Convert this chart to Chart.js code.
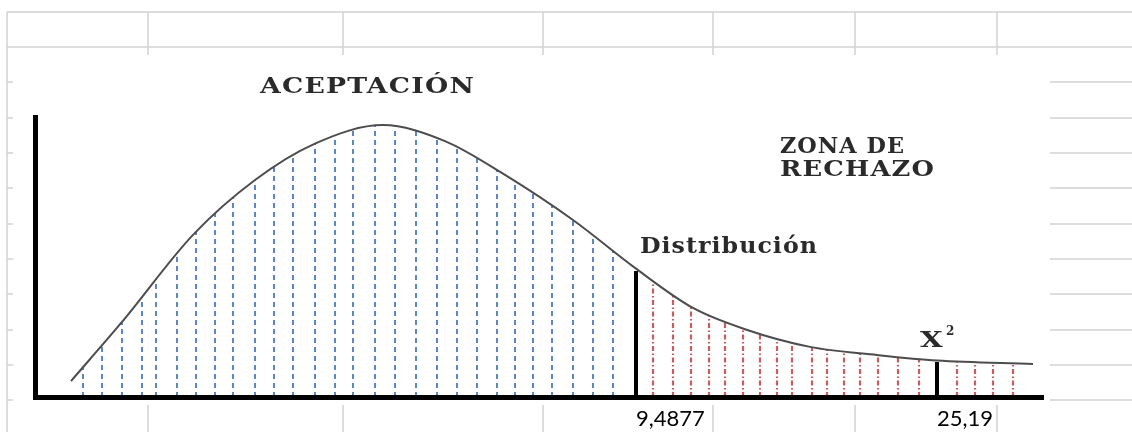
<!DOCTYPE html>
<html>
<head>
<meta charset="utf-8">
<script src="https://cdn.jsdelivr.net/npm/chart.js@4.4.1/dist/chart.umd.min.js"></script>
<style>
  html, body { margin: 0; padding: 0; background: #fff; }
</style>
</head>
<body>
<canvas id="chiChart" width="1132" height="432"></canvas>
<script>
// density curve (x: 0-100.8 along the axis, y: 0-100 height)
const curveX = [3.6, 8.7, 15.8, 22.0, 28.0, 34.8, 41.0, 47.0, 53.8, 60.0, 65.8, 71.0, 77.5, 84.2, 90.2, 99.8];
const curveY = [5.7, 26.8, 57.9, 77.5, 90.5, 97.1, 91.4, 79.3, 63.2, 46.1, 31.8, 24.2, 17.9, 15.0, 13.0, 11.8];

// critical values: position on the axis, height of the marker, label
const critX = [60.1, 90.2];
const critTop = [45.0, 12.5];
const tickLabels = ['9,4877', '25,19'];

// hatching positions
const acceptHatch = [4.8, 6.7, 8.7, 10.7, 12.1, 14.2, 16.1, 18.0, 19.8, 22.0, 23.9, 25.8, 28.0, 30.0, 31.8, 34.0, 36.0, 38.1, 40.2, 42.2, 44.2, 46.2, 48.0, 49.8, 51.7, 53.8, 55.8, 57.8];
const rejectHatch = [61.8, 63.8, 65.6, 67.4, 69.0, 70.8, 72.5, 74.2, 75.7, 77.7, 79.2, 80.9, 82.5, 84.3, 86.3, 88.4, 92.2, 94.0, 95.8, 97.8];

const curveData = curveX.map((x, i) => ({ x: x, y: curveY[i] }));
const critSets = critX.map((x, i) => ({
    data: [{ x: x, y: 0 }, { x: x, y: critTop[i] }],
    borderColor: '#000',
    borderWidth: 4,
    pointRadius: 0
}));

// spreadsheet grid behind the pasted picture
const sheetGrid = {
    id: 'sheetGrid',
    beforeDraw(chart) {
        const ctx = chart.ctx;
        const cols = [7, 148, 343, 543, 713, 855, 997];
        const rows = [12, 47, 82, 118, 153, 188, 224, 259, 294, 330, 365, 400];
        ctx.save();
        ctx.fillStyle = '#fff';
        ctx.fillRect(0, 0, chart.width, chart.height);
        ctx.strokeStyle = '#d2d2d2';
        ctx.lineWidth = 1.5;
        rows.forEach(r => { ctx.beginPath(); ctx.moveTo(7, r); ctx.lineTo(chart.width, r); ctx.stroke(); });
        cols.forEach(c => { ctx.beginPath(); ctx.moveTo(c, 12); ctx.lineTo(c, chart.height); ctx.stroke(); });
        ctx.fillStyle = '#fff';
        ctx.fillRect(13, 55, 1037, 350);
        ctx.restore();
    }
};

// dashed hatching under the curve
const hatching = {
    id: 'hatching',
    beforeDatasetsDraw(chart) {
        const ctx = chart.ctx;
        const xs = chart.scales.x;
        const area = chart.chartArea;
        const line = chart.getDatasetMeta(0).dataset;
        if (line.updateControlPoints) line.updateControlPoints(area, 'x');
        const pts = line.points;
        ctx.save();
        ctx.beginPath();
        line.path(ctx);
        ctx.lineTo(pts[pts.length - 1].x, area.bottom);
        ctx.lineTo(pts[0].x, area.bottom);
        ctx.closePath();
        ctx.clip();
        const draw = (list, color, dash, width) => {
            ctx.strokeStyle = color;
            ctx.lineWidth = width;
            ctx.setLineDash(dash);
            list.forEach(v => {
                const px = xs.getPixelForValue(v);
                ctx.beginPath();
                ctx.moveTo(px, area.bottom);
                ctx.lineTo(px, area.top);
                ctx.stroke();
            });
        };
        draw(acceptHatch, '#4a79c2', [5, 4], 1.8);
        draw(rejectHatch, '#cc5b60', [5, 2.5, 1.5, 2.5], 2.2);
        ctx.restore();
    }
};

// text written on the picture
const notes = {
    id: 'notes',
    afterDraw(chart) {
        const ctx = chart.ctx;
        const xs = chart.scales.x, ys = chart.scales.y;
        const put = (text, x, y, width, font) => {
            ctx.font = font;
            ctx.letterSpacing = '1px';
            const w = ctx.measureText(text).width;
            ctx.save();
            ctx.translate(xs.getPixelForValue(x), ys.getPixelForValue(y));
            if (width) ctx.scale(width / w, 1);
            ctx.fillText(text, 0, 0);
            ctx.restore();
        };
        ctx.save();
        ctx.fillStyle = '#2a2a2a';
        ctx.textAlign = 'left';
        ctx.textBaseline = 'alphabetic';
        const serif = 'bold 22px "DejaVu Serif"';
        put('ACEPTACIÓN', 22.5, 108.6, 215, serif);
        put('ZONA DE', 74.5, 87.1, 125, serif);
        put('RECHAZO', 74.5, 78.9, 155, serif);
        put('Distribución', 60.5, 51.4, 178, 'bold 23px "DejaVu Serif"');
        put('X', 88.5, 17.9, 24, 'bold 22px "DejaVu Serif"');
        put('2', 91.1, 22.2, 0, 'bold 12px "DejaVu Serif"');
        ctx.restore();
    }
};

new Chart(document.getElementById('chiChart'), {
    type: 'line',
    data: {
        datasets: [{
            data: curveData,
            borderColor: '#4d4d4d',
            borderWidth: 2,
            pointRadius: 0,
            cubicInterpolationMode: 'monotone',
            fill: false
        }, ...critSets]
    },
    options: {
        responsive: false,
        animation: false,
        layout: { padding: { left: 35, right: 89, top: 117, bottom: 0 } },
        scales: {
            x: {
                type: 'linear',
                min: 0,
                max: 100.8,
                afterFit: s => { s.height = 35; },
                afterBuildTicks: s => { s.ticks = critX.map(v => ({ value: v })); },
                grid: { display: false, drawTicks: false },
                border: { display: true, color: '#000', width: 5, z: 1 },
                ticks: {
                    autoSkip: false,
                    maxRotation: 0,
                    align: 'start',
                    padding: 9,
                    color: '#000',
                    font: { family: 'Lato', size: 22 },
                    callback: (v, i) => tickLabels[i]
                }
            },
            y: {
                min: 0,
                max: 100,
                afterFit: s => { s.width = 0; },
                grid: { display: false, drawTicks: false },
                border: { display: true, color: '#000', width: 5, z: 1 },
                ticks: { display: false }
            }
        },
        plugins: {
            legend: { display: false },
            tooltip: { enabled: false }
        }
    },
    plugins: [sheetGrid, hatching, notes]
});
</script>
</body>
</html>
